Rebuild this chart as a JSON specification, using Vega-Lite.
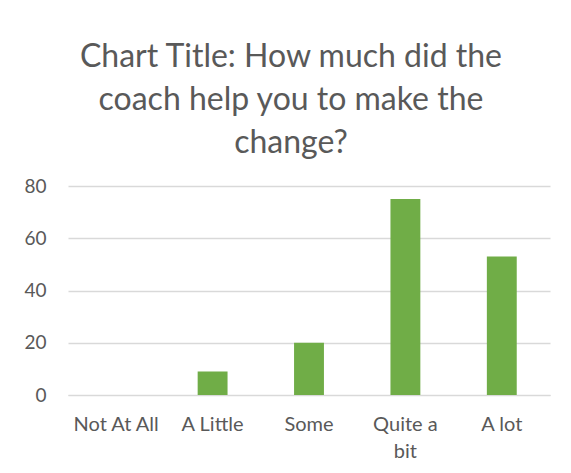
{
  "$schema": "https://vega.github.io/schema/vega-lite/v6.json",
  "width": 482,
  "height": 209,
  "autosize": "none",
  "padding": {"left": 68, "top": 186, "right": 21, "bottom": 78},
  "background": "white",
  "title": {
    "text": ["Chart Title: How much did the", "coach help you to make the", "change?"],
    "font": "Lato",
    "fontSize": 32,
    "fontWeight": "normal",
    "color": "#595959",
    "lineHeight": 43,
    "anchor": "middle",
    "dx": -18,
    "offset": 17
  },
  "data": {
    "values": [
      {"category": "Not At All", "value": 0},
      {"category": "A Little", "value": 9},
      {"category": "Some", "value": 20},
      {"category": "Quite a bit", "value": 75},
      {"category": "A lot", "value": 53}
    ]
  },
  "mark": {"type": "bar", "color": "#70AD47"},
  "encoding": {
    "x": {
      "field": "category",
      "type": "nominal",
      "sort": null,
      "scale": {"paddingInner": 0.69, "paddingOuter": 0.345},
      "axis": {
        "title": null,
        "labelAngle": 0,
        "labelFont": "Lato",
        "labelFontSize": 20,
        "labelColor": "#595959",
        "labelPadding": 19,
        "ticks": false,
        "domainColor": "#d9d9d9",
        "labelExpr": "datum.label == 'Quite a bit' ? ['Quite a', 'bit'] : datum.label",
        "labelLineHeight": 27
      }
    },
    "y": {
      "field": "value",
      "type": "quantitative",
      "scale": {"domain": [0, 80]},
      "axis": {
        "title": null,
        "values": [0, 20, 40, 60, 80],
        "labelFont": "Lato",
        "labelFontSize": 19,
        "labelColor": "#595959",
        "labelPadding": 22,
        "ticks": false,
        "domain": false,
        "gridColor": "#d9d9d9",
        "gridWidth": 1.3
      }
    }
  },
  "config": {"view": {"stroke": null}}
}
